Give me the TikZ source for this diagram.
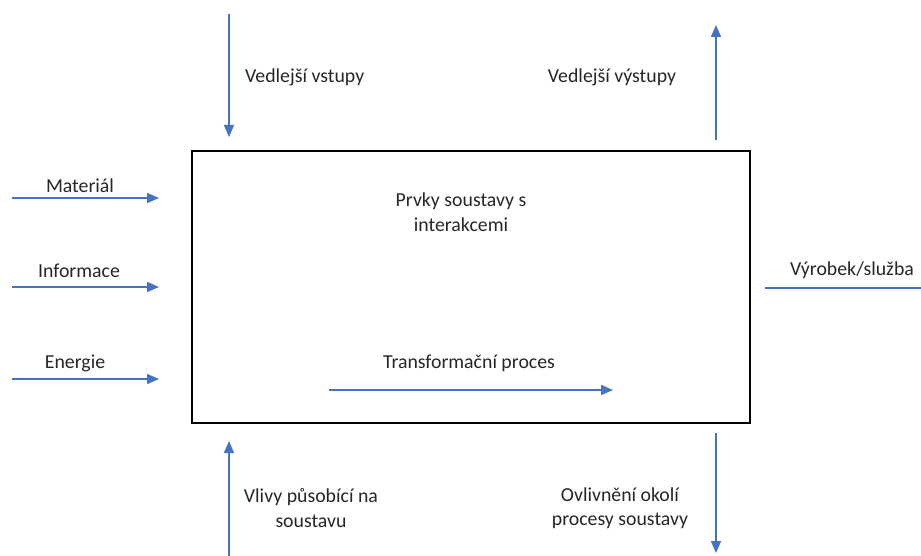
\documentclass[tikz,border=0pt]{standalone}
\usepackage{fontspec}
\setmainfont{Carlito}
\usetikzlibrary{arrows.meta}
\definecolor{arrblue}{HTML}{4472C4}
\begin{document}
\begin{tikzpicture}[x=1pt,y=-1pt,
  flow/.style={draw=arrblue,line width=1.5pt,-{Triangle[length=12pt,width=10pt]}},
  plainflow/.style={draw=arrblue,line width=1.5pt},
  lbl/.style={font=\fontsize{19.8}{24.5}\selectfont,inner sep=0pt,align=center,text=black!85},
  lbll/.style={lbl,anchor=west,align=left}]
\useasboundingbox (0,0) rectangle (921,556);
\node[draw=black,line width=2pt,minimum width=558pt,minimum height=272pt,inner sep=0pt] (box) at (471,287) {};
% top
\coordinate (vs0) at (229,14); \coordinate (vs1) at (229,137);
\draw[flow] (vs0) -- (vs1);
\node[lbll] (vsl) at (245,77) {Vedlejší vstupy};
\coordinate (vv0) at (716,140); \coordinate (vv1) at (716,25);
\draw[flow] (vv0) -- (vv1);
\node[lbl] (vvl) at (612,77) {Vedlejší výstupy};
% left
\coordinate (m0) at (12,198); \coordinate (m1) at (159,198);
\draw[flow] (m0) -- (m1);
\node[lbl] (ml) at (80,186) {Materiál};
\coordinate (i0) at (12,287); \coordinate (i1) at (159,287);
\draw[flow] (i0) -- (i1);
\node[lbl] (il) at (79,271) {Informace};
\coordinate (e0) at (12,379); \coordinate (e1) at (159,379);
\draw[flow] (e0) -- (e1);
\node[lbl] (el) at (75,363) {Energie};
% right
\coordinate (r0) at (765,288); \coordinate (r1) at (921,288);
\draw[plainflow] (r0) -- (r1);
\node[lbl] (rl) at (852,270) {Výrobek/služba};
% inside
\node[lbl] (pr) at (461,212) {Prvky soustavy s\\interakcemi};
\coordinate (t0) at (329,390); \coordinate (t1) at (613,390);
\draw[flow] (t0) -- (t1);
\node[lbl] (tl) at (469,363) {Transformační proces};
% bottom
\coordinate (b0) at (229,556); \coordinate (b1) at (229,441);
\draw[flow] (b0) -- (b1);
\node[lbl] (bl) at (311,508) {Vlivy působící na\\soustavu};
\coordinate (o0) at (716,433); \coordinate (o1) at (716,553);
\draw[flow] (o0) -- (o1);
\node[lbl] (ol) at (620,508) {Ovlivnění okolí\\procesy soustavy};
\end{tikzpicture}
\end{document}
